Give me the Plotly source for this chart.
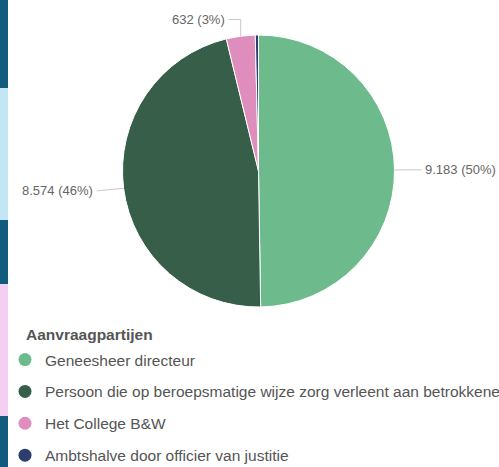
import math
import plotly.graph_objects as go

# ── data ────────────────────────────────────────────────────────────
LABELS = [
    "Geneesheer directeur",
    "Persoon die op beroepsmatige wijze zorg verleent aan betrokkene",
    "Het College B&W",
    "Ambtshalve door officier van justitie",
]
VALUES = [9183, 8574, 632, 70]
COLORS = ["#6dbb8d", "#365e49", "#df8dbc", "#2c3e6e"]
LEGEND_TITLE = "Aanvraagpartijen"
SHOW_LABEL = [True, True, True, False]

# ── geometry (pixels) ──────────────────────────────────────────────
W, H = 499, 467
CX, CY, R = 258.5, 171, 136
FONT = "Arial, Liberation Sans, sans-serif"

# page side strip (decoration): (top, bottom, colour)
STRIPS = [
    (0, 88, "#135b7c"),
    (88, 220, "#c3e6f4"),
    (220, 284, "#135b7c"),
    (284, 416, "#f3d0ef"),
    (416, 467, "#135b7c"),
]


def px(x):
    return x / W


def py(y):
    return 1 - y / H


fig = go.Figure()

fig.add_trace(
    go.Pie(
        labels=LABELS,
        values=VALUES,
        sort=False,
        direction="clockwise",
        rotation=0,
        textinfo="none",
        hoverinfo="label+value+percent",
        marker=dict(colors=COLORS, line=dict(color="white", width=1)),
        domain=dict(x=[px(CX - R), px(CX + R)], y=[py(CY + R), py(CY - R)]),
        showlegend=False,
    )
)

# legend entries with round markers
for i, (name, col) in enumerate(zip(LABELS, COLORS)):
    fig.add_trace(
        go.Scatter(
            x=[None],
            y=[None],
            mode="markers",
            name=name,
            legendgroup=f"g{i}",
            marker=dict(color=col, size=13),
            showlegend=True,
        )
    )

# ── outside labels with leader lines ──────────────────────────────
total = sum(VALUES)
shapes = []
annotations = []
start = 0.0
for v, show in zip(VALUES, SHOW_LABEL):
    span = 360 * v / total
    mid = math.radians(start + span / 2)
    start += span
    if not show:
        continue
    s, c = math.sin(mid), math.cos(mid)
    ex, ey = CX + R * s, CY - R * c
    text = f"{v:,}".replace(",", ".") + f" ({round(100 * v / total)}%)"
    side = 1 if s > 0 else -1
    if abs(s) > 0.5:
        lx, ly = ex + side * 27, ey + 0.15 * (ey - CY)
        path = f"M {px(ex)} {py(ey)} L {px(lx)} {py(ly)}"
    else:
        ly = CY - R - 15.5
        lx = ex + side * 12
        path = f"M {px(ex)} {py(ey)} L {px(ex)} {py(ly)} L {px(lx)} {py(ly)}"
    shapes.append(
        dict(type="path", path=path, xref="paper", yref="paper",
             line=dict(color="#c8c8c8", width=1))
    )
    annotations.append(
        dict(
            text=text,
            x=px(lx + side * 2),
            y=py(ly),
            xref="paper",
            yref="paper",
            xanchor="left" if side > 0 else "right",
            yanchor="middle",
            showarrow=False,
            font=dict(size=13, color="#666666", family=FONT),
        )
    )

# legend heading
annotations.append(
    dict(
        text=f"<b>{LEGEND_TITLE}</b>",
        x=px(24),
        y=py(334),
        xref="paper",
        yref="paper",
        xanchor="left",
        yanchor="middle",
        showarrow=False,
        font=dict(size=15.5, color="#555555", family=FONT),
    )
)

for top, bottom, col in STRIPS:
    shapes.append(
        dict(type="rect", xref="paper", yref="paper", x0=0, x1=px(8),
             y0=py(bottom), y1=py(top), fillcolor=col, line=dict(width=0),
             layer="below")
    )

fig.update_layout(
    width=W,
    height=H,
    margin=dict(l=0, r=0, t=0, b=0, autoexpand=False),
    paper_bgcolor="white",
    plot_bgcolor="white",
    xaxis=dict(visible=False),
    yaxis=dict(visible=False),
    shapes=shapes,
    annotations=annotations,
    font=dict(family=FONT, color="#555555"),
    legend=dict(
        font=dict(size=15.5, color="#555555"),
        x=px(5),
        y=py(343),
        xanchor="left",
        yanchor="top",
        tracegroupgap=8.7,
        itemwidth=30,
        bgcolor="rgba(0,0,0,0)",
    ),
)

fig.write_html(
    "out.html",
    config={"displayModeBar": False},
    post_script="document.body.style.margin='0';",
)
